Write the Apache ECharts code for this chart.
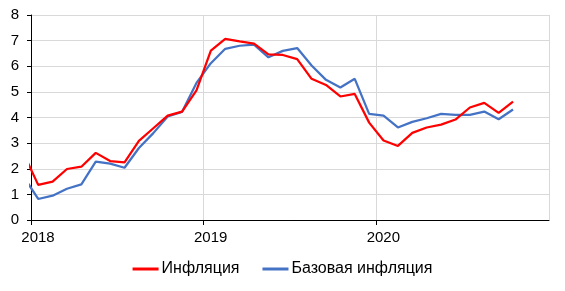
<!DOCTYPE html>
<html>
<head>
<meta charset="utf-8">
<script src="https://cdn.jsdelivr.net/npm/echarts@6/dist/echarts.min.js"></script>
<style>html,body{margin:0;padding:0;background:#fff}#c{width:565px;height:291px}</style>
</head>
<body>
<div id="c"></div>
<script>
var months = ['2017-12',
  '2018-01','2018-02','2018-03','2018-04','2018-05','2018-06','2018-07','2018-08','2018-09','2018-10','2018-11','2018-12',
  '2019-01','2019-02','2019-03','2019-04','2019-05','2019-06','2019-07','2019-08','2019-09','2019-10','2019-11','2019-12',
  '2020-01','2020-02','2020-03','2020-04','2020-05','2020-06','2020-07','2020-08','2020-09','2020-10'];
var inflation = [2.58,
  1.37,1.50,1.99,2.08,2.62,2.30,2.25,3.09,3.58,4.07,4.23,5.06,
  6.61,7.07,6.97,6.88,6.46,6.44,6.28,5.51,5.27,4.82,4.92,3.80,
  3.10,2.89,3.40,3.61,3.72,3.92,4.39,4.57,4.18,4.62];
var coreInflation = [1.68,
  0.82,0.95,1.22,1.39,2.28,2.20,2.04,2.81,3.39,4.04,4.22,5.35,
  6.12,6.68,6.80,6.84,6.35,6.60,6.71,6.03,5.47,5.17,5.51,4.14,
  4.07,3.61,3.83,3.97,4.14,4.10,4.10,4.23,3.93,4.31];
var yearLabels = ['2018','2019','2020','2021'];
var seriesNames = ['Инфляция','Базовая инфляция'];

function monthPos(m){ var p = m.split('-'); return (parseInt(p[0],10)-2018)*12 + (parseInt(p[1],10)-1) + 0.5; }
function pairs(vals){ return months.map(function(m,i){ return [monthPos(m), vals[i]]; }); }

var font = 'Liberation Sans, Arial, sans-serif';
var chart = echarts.init(document.getElementById('c'), null, {renderer:'canvas'});
chart.setOption({
  animation:false,
  grid:{left:31, top:15, right:16, bottom:71, containLabel:false},
  legend:{
    bottom:9, left:'center', itemWidth:26, itemHeight:3, itemGap:23,
    icon:'rect',
    textStyle:{fontFamily:font, fontSize:16, color:'#000', padding:[0,0,0,-2]},
    data:seriesNames
  },
  xAxis:{
    type:'value', min:0, max:36, interval:12,
    axisLine:{show:true, lineStyle:{color:'#000', width:1}},
    axisTick:{show:true, length:5, lineStyle:{color:'#000'}},
    splitLine:{show:true, lineStyle:{color:'#d9d9d9', width:1}},
    axisLabel:{
      showMaxLabel:false, margin:10, fontFamily:font, fontSize:15, color:'#000',
      padding:[0,0,0,14],
      formatter:function(v){ return yearLabels[Math.round(v/12)]; }
    }
  },
  yAxis:{
    type:'value', min:0, max:8, interval:1,
    axisLine:{show:true, lineStyle:{color:'#000', width:1}},
    axisTick:{show:true, length:4, lineStyle:{color:'#000'}},
    splitLine:{show:true, lineStyle:{color:'#d9d9d9', width:1}},
    axisLabel:{margin:12, fontFamily:font, fontSize:15, color:'#000'}
  },
  series:[
    {name:seriesNames[0], type:'line', data:pairs(inflation), showSymbol:false, symbol:'none', clip:true,
     color:'#ff0000', lineStyle:{color:'#ff0000', width:2.25}, z:3},
    {name:seriesNames[1], type:'line', data:pairs(coreInflation), showSymbol:false, symbol:'none', clip:true,
     color:'#4472c4', lineStyle:{color:'#4472c4', width:2.25}, z:2}
  ]
});
</script>
</body>
</html>
